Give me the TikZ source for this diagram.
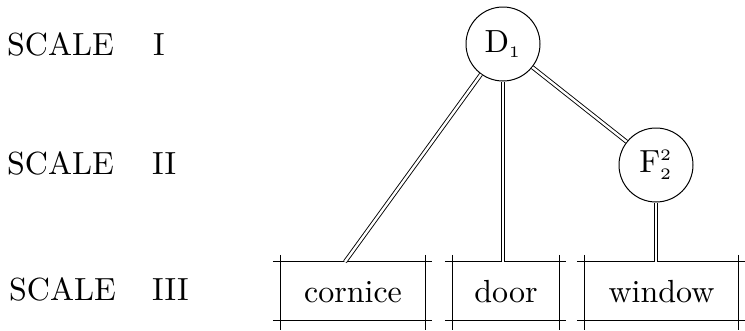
\documentclass[tikz,border=0pt]{standalone}
\newcommand{\bigtxt}[1]{\scalebox{3.2}{\fontsize{10}{12}\selectfont #1}}
\begin{document}
\begin{tikzpicture}[x=1pt,y=-1pt,
  lab/.style={anchor=base west,inner sep=0pt},
  circ/.style={circle,draw,line width=1pt,minimum size=74pt,inner sep=0pt},
  boxn/.style={draw=none,rectangle,inner sep=0pt,text height=22pt,text depth=0pt},
  boxline/.style={line width=1pt},
  dbl/.style={double,double distance=2.4pt,line width=0.9pt}]
\useasboundingbox (0,0) rectangle (745,330);
% scale labels
\node[lab] (s1) at (7,55) {\bigtxt{SCALE}};
\node[lab] (n1) at (153,55) {\bigtxt{I}};
\node[lab] (s2) at (7,174) {\bigtxt{SCALE}};
\node[lab] (n2) at (152,174) {\bigtxt{II}};
\node[lab] (s3) at (9,300) {\bigtxt{SCALE}};
\node[lab] (n3) at (152,300) {\bigtxt{III}};
% circles
\node[circ] (D) at (503,44) {\bigtxt{D$_{\scriptscriptstyle 1}$}};
\node[circ] (F) at (656,165) {\bigtxt{F$^{\scriptscriptstyle 2}_{\scriptscriptstyle 2}$}};
% boxes
\node[boxn,minimum width=144pt,minimum height=58pt] (c) at (353,291) {\bigtxt{cornice}};
\node[boxn,minimum width=106pt,minimum height=58pt] (d) at (506,291) {\bigtxt{door}};
\node[boxn,minimum width=153pt,minimum height=58pt] (w) at (661.5,291) {\bigtxt{window}};
\foreach \b in {c,d,w}{
  \draw[boxline] ([xshift=-8pt]\b.north west) -- ([xshift=7pt]\b.north east);
  \draw[boxline] ([xshift=-8pt]\b.south west) -- ([xshift=7pt]\b.south east);
  \draw[boxline] ([yshift=7pt]\b.north west) -- ([yshift=-10pt]\b.south west);
  \draw[boxline] ([yshift=7pt]\b.north east) -- ([yshift=-10pt]\b.south east);
}
% connectors
\draw[dbl] (D) -- ([xshift=-8pt]c.north);
\draw[dbl] (D.south) -- (D.south |- d.north);
\draw[dbl] (D) -- (F);
\draw[dbl] (F.south) -- (F.south |- w.north);
\end{tikzpicture}
\end{document}
